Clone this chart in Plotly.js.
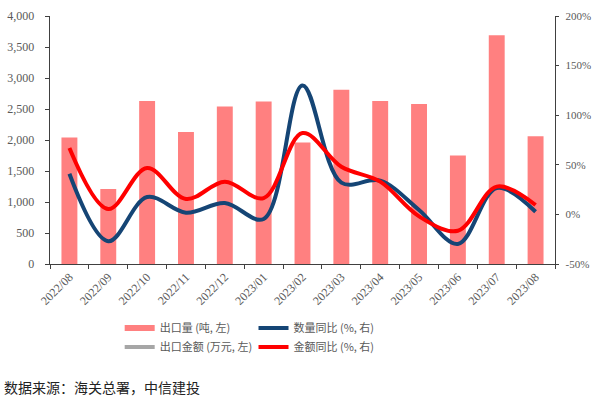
<!DOCTYPE html>
<html>
<head>
<meta charset="utf-8">
<script src="https://cdn.plot.ly/plotly-3.0.1.min.js"></script>
<style>
html,body{margin:0;padding:0;background:#fff;}
#chart{width:600px;height:398px;}
</style>
</head>
<body>
<div id="chart"></div>
<script>
const months = ['2022/08','2022/09','2022/10','2022/11','2022/12','2023/01','2023/02','2023/03','2023/04','2023/05','2023/06','2023/07','2023/08'];
const exportVolume = [2040,1210,2630,2130,2540,2620,1960,2810,2630,2580,1750,3690,2060];
const volumeYoY = [41,-27,17.5,1.7,11.5,-4.6,130,32,34,4.4,-29.8,26.6,2.7];
const valueYoY = [67,5.4,46.8,15.5,33,16.5,82,48,33,-2,-16.5,28,9.5];
const leftTicks = [0,500,1000,1500,2000,2500,3000,3500,4000];
const rightTicks = [-50,0,50,100,150,200];
const rightTickLabels = ['-50%','0%','50%','100%','150%','200%'];
const seriesNames = ['出口量 (吨, 左)','出口金额 (万元, 左)','数量同比 (%, 右)','金额同比 (%, 右)'];

const pink = '#FF8080', navy = '#154575', red = '#FF0000', gray = '#A6A6A6';
const serif = 'Liberation Serif, Times New Roman, serif';
const cjk = 'Noto Sans CJK SC, sans-serif';

const traces = [
  {type:'bar', x:months, y:exportVolume, marker:{color:pink}, showlegend:false, hoverinfo:'skip'},
  {type:'scatter', mode:'lines', x:months, y:volumeYoY, yaxis:'y2', line:{color:navy, width:4, shape:'spline', smoothing:1}, showlegend:false},
  {type:'scatter', mode:'lines', x:months, y:valueYoY, yaxis:'y2', line:{color:red, width:4, shape:'spline', smoothing:1}, showlegend:false},
  // legend entries (Excel-style line swatches)
  {type:'scatter', mode:'lines', x:[null], y:[null], name:seriesNames[0], line:{color:pink, width:6}, legend:'legend'},
  {type:'scatter', mode:'lines', x:[null], y:[null], name:seriesNames[1], line:{color:gray, width:4}, legend:'legend'},
  {type:'scatter', mode:'lines', x:[null], y:[null], name:seriesNames[2], line:{color:navy, width:4}, legend:'legend2', yaxis:'y2'},
  {type:'scatter', mode:'lines', x:[null], y:[null], name:seriesNames[3], line:{color:red, width:4}, legend:'legend2', yaxis:'y2'}
];

const legendFont = {family:cjk, size:11, color:'#595959'};
const layout = {
  width:600, height:398,
  margin:{l:50, r:45, t:16, b:134, pad:0},
  paper_bgcolor:'#ffffff', plot_bgcolor:'#ffffff',
  bargap:0.59,
  xaxis:{
    type:'category', range:[-0.5,12.5], showline:true, linecolor:'#404040', linewidth:1.3,
    ticks:'outside', tickson:'boundaries', ticklen:4, tickcolor:'#404040',
    tickangle:-45, tickfont:{family:serif, size:12, color:'#595959'}, showgrid:false, zeroline:false
  },
  yaxis:{
    range:[0,4000], tickvals:leftTicks, tickformat:',', showline:true, linecolor:'#404040', linewidth:1.3,
    ticks:'outside', ticklen:4, tickcolor:'#404040', ticklabelstandoff:8,
    tickfont:{family:serif, size:12, color:'#595959'}, showgrid:false, zeroline:false
  },
  yaxis2:{
    overlaying:'y', side:'right', range:[-50,200], tickmode:'array', tickvals:rightTicks, ticktext:rightTickLabels,
    showline:true, linecolor:'#404040', linewidth:1.3, ticks:'outside', ticklen:3, tickcolor:'#404040',
    ticklabelstandoff:4, tickfont:{family:serif, size:11, color:'#595959'}, showgrid:false, zeroline:false
  },
  legend:{x:0.138, y:-0.20, xanchor:'left', yanchor:'top', orientation:'v', font:legendFont, bgcolor:'rgba(0,0,0,0)', tracegroupgap:0},
  legend2:{x:0.403, y:-0.20, xanchor:'left', yanchor:'top', orientation:'v', font:legendFont, bgcolor:'rgba(0,0,0,0)', tracegroupgap:0},
  annotations:[{
    text:'数据来源：海关总署，中信建投', xref:'paper', yref:'paper', x:-0.095, y:-0.495,
    xanchor:'left', yanchor:'middle', showarrow:false, font:{family:cjk, size:14, color:'#222222'}
  }]
};

Plotly.newPlot('chart', traces, layout, {displayModeBar:false, staticPlot:true});
</script>
</body>
</html>
